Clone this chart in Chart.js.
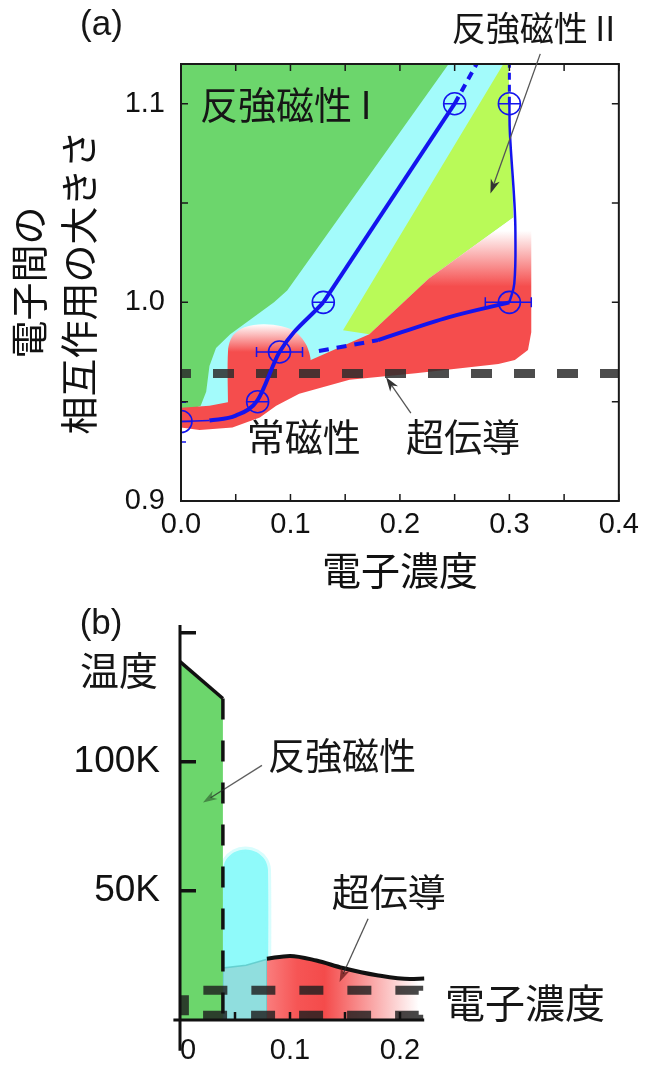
<!DOCTYPE html>
<html>
<head>
<meta charset="utf-8">
<script src="https://cdn.jsdelivr.net/npm/chart.js"></script>
<style>
  html, body { margin: 0; padding: 0; background: #fff; }
  #wrap { position: relative; width: 646px; height: 1075px; overflow: hidden; }
  .box { position: absolute; left: 0; width: 646px; }
</style>
</head>
<body>
<div id="wrap">
  <div class="box" style="top:0;height:600px"><canvas id="chartA"></canvas></div>
  <div class="box" style="top:575px;height:500px"><canvas id="chartB"></canvas></div>
</div>
<script>
// ---------- (a) 電子濃度 vs 電子間の相互作用 ----------
var xTickValsA = [0, 0.05, 0.1, 0.15, 0.2, 0.25, 0.3, 0.35, 0.4];
var xTickLabelsA = ['0.0', '', '0.1', '', '0.2', '', '0.3', '', '0.4'];
var yTickValsA = [0.9, 0.95, 1.0, 1.05, 1.1];
var yTickLabelsA = ['0.9', '', '1.0', '', '1.1'];

// measured points (circles)
var afDoping = [0.0, 0.07, 0.09, 0.13, 0.25];
var afU = [0.94, 0.95, 0.975, 1.0, 1.1];
var af2Doping = [0.3, 0.3];
var af2U = [1.1, 1.0];

// boundary lines
var lineA0x = [0.0, 0.026];
var lineA0y = [0.94, 0.9405];
var lineAx = [0.026, 0.05, 0.07, 0.09, 0.13];
var lineAy = [0.9405, 0.943, 0.9508, 0.975, 1.0];
var lineAstraightX = [0.13, 0.25];
var lineAstraightY = [1.0, 1.1];
var lineAdashX = [0.25, 0.27];
var lineAdashY = [1.1, 1.12];
var lineBx = [0.3, 0.3005, 0.3045, 0.3055, 0.3045, 0.3];
var lineBy = [1.1, 1.085, 1.051, 1.035, 1.0095, 1.0];
var lineBdashX = [0.3, 0.3];
var lineBdashY = [1.1, 1.12];
var lineCx = [0.18, 0.245, 0.3];
var lineCy = [0.981, 0.9926, 1.0];
var lineCdashX = [0.126, 0.18];
var lineCdashY = [0.9755, 0.981];
var scLevelX = [0, 0.4];
var scLevelY = [0.9642, 0.9642];

// error bars
var errHx = [[0.069, 0.111], [0.278, 0.32]];
var errHy = [0.975, 1.0];
var errVx = [0, 0];
var errVy = [0.9297, 0.9497];
var stemX = [0, 0];
var stemY = [0.9, 0.94];

// phase regions
var cyanX = [0, 0.299, 0.3036, 0.2264, 0.172, 0.1, 0.05, 0];
var cyanY = [1.12, 1.12, 1.0427, 1.012, 0.984, 0.958, 0.944, 0.944];
var greenX = [0, 0.2445, 0.097, 0.085, 0.065, 0.045, 0.032, 0.026, 0.023, 0.018, 0.008, 0];
var greenY = [1.12, 1.12, 1.006, 1.0, 0.992, 0.984, 0.977, 0.968, 0.955, 0.948, 0.946, 0.946];
var ygX = [0.2945, 0.299, 0.3036, 0.2264, 0.172, 0.148];
var ygY = [1.12, 1.12, 1.0427, 1.012, 0.984, 0.986];
var redX = [0, 0.017, 0.047, 0.072, 0.087, 0.108, 0.154, 0.2145, 0.29, 0.305, 0.317, 0.32, 0.32, 0.3036, 0.2264, 0.172, 0.09, 0.045, 0.026, 0];
var redY = [0.937, 0.9357, 0.937, 0.942, 0.948, 0.954, 0.961, 0.9643, 0.969, 0.971, 0.976, 0.985, 1.04, 1.0427, 1.012, 0.984, 0.964, 0.95, 0.948, 0.947];
var lobeX = [0.043, 0.043, 0.047, 0.058, 0.075, 0.092, 0.105, 0.115, 0.118, 0.1];
var lobeY = [0.946, 0.976, 0.983, 0.9875, 0.989, 0.988, 0.985, 0.978, 0.968, 0.955];

// ---------- (b) 電子濃度 vs 温度 ----------
var xTickValsB = [0, 0.1, 0.2, 0.3, 0.4];
var xTickLabelsB = ['0', '0.1', '0.2', '', ''];
var xMarksB = [0.05, 0.1, 0.15, 0.2];
var yTickValsB = [50, 100];
var yTickLabelsB = ['50K', '100K'];
var yMarksB = [50, 100, 150];

var bGreenX = [0, 0, 0.039, 0.039];
var bGreenT = [0, 138.8, 124.5, 0];
var bNeelX = [0, 0.039];
var bNeelT = [138.8, 124.5];
var bNeelDropX = [0.039, 0.039];
var bNeelDropT = [124.5, 0];
var bBarX = [0.039, 0.039, 0.0417, 0.0492, 0.0595, 0.0698, 0.0773, 0.08, 0.08];
var bBarT = [0, 57.9, 61.9, 64.9, 66, 64.9, 61.9, 57.9, 0];
var bTealX = [0.039, 0.039, 0.06, 0.079, 0.079];
var bTealT = [0, 20.1, 21.2, 23.5, 0];
var bRedX = [0.079, 0.1, 0.124, 0.148, 0.179, 0.209, 0.217, 0.217, 0.079];
var bRedT = [23.7, 24.8, 23.0, 20.1, 17.3, 15.8, 15.9, 0, 0];
var bScX = [0.079, 0.1, 0.124, 0.148, 0.179, 0.209, 0.222];
var bScT = [23.7, 24.8, 23.0, 20.1, 17.3, 15.8, 16.0];
var bBoxX = [0.004, 0.004, 0.217, 0.217, 0.004];
var bBoxT = [1.8, 11.5, 11.5, 1.8, 1.8];
var bAxisVX = [0, 0];
var bAxisVT = [-12, 153];
var bAxisHX = [-0.006, 0.222];
var bAxisHT = [0, 0];

var BLUE = '#1414ee';
var RED = '#f54d4d';
var GREEN = '#6cd66c';
var CJK = '"Noto Sans CJK JP", "Noto Sans CJK SC", sans-serif';
var LATIN = '"Liberation Sans", Arial, sans-serif';

function pts(xs, ys) {
  return xs.map(function (x, i) { return { x: x, y: ys[i] }; });
}

function region(xs, ys, color, order, tension) {
  return {
    data: pts(xs, ys), showLine: true, fill: 'shape',
    backgroundColor: color, borderColor: 'rgba(0,0,0,0)', borderWidth: 0,
    pointRadius: 0, tension: tension || 0, order: order
  };
}

function curve(xs, ys, color, width, order, extra) {
  var ds = {
    data: pts(xs, ys), showLine: true, fill: false,
    borderColor: color, borderWidth: width, pointRadius: 0,
    tension: 0, order: order
  };
  for (var k in extra) ds[k] = extra[k];
  return ds;
}

function vGrad(chart, vRed, vWhite, red) {
  if (!chart.chartArea) return red;
  var sy = chart.scales.y;
  var g = chart.ctx.createLinearGradient(0, sy.getPixelForValue(vRed), 0, sy.getPixelForValue(vWhite));
  g.addColorStop(0, red);
  g.addColorStop(1, '#ffffff');
  return g;
}

function drawArrow(ctx, chart, ar) {
  var sx = chart.scales.x, sy = chart.scales.y;
  var x0 = sx.getPixelForValue(ar.from[0]), y0 = sy.getPixelForValue(ar.from[1]);
  var x1 = sx.getPixelForValue(ar.to[0]), y1 = sy.getPixelForValue(ar.to[1]);
  var a = Math.atan2(y1 - y0, x1 - x0);
  ctx.strokeStyle = ar.line;
  ctx.lineWidth = 1.3;
  ctx.setLineDash([]);
  ctx.beginPath();
  ctx.moveTo(x0, y0);
  ctx.lineTo(x1 - 9 * Math.cos(a), y1 - 9 * Math.sin(a));
  ctx.stroke();
  ctx.fillStyle = ar.head;
  ctx.beginPath();
  ctx.moveTo(x1, y1);
  ctx.lineTo(x1 - 15 * Math.cos(a - 0.32), y1 - 15 * Math.sin(a - 0.32));
  ctx.lineTo(x1 - 10 * Math.cos(a), y1 - 10 * Math.sin(a));
  ctx.lineTo(x1 - 15 * Math.cos(a + 0.32), y1 - 15 * Math.sin(a + 0.32));
  ctx.closePath();
  ctx.fill();
}

function drawLabel(ctx, chart, lb) {
  ctx.font = lb.font;
  ctx.fillStyle = '#161616';
  ctx.textAlign = lb.align;
  ctx.textBaseline = 'middle';
  ctx.fillText(lb.text, chart.scales.x.getPixelForValue(lb.x), chart.scales.y.getPixelForValue(lb.y));
}

var labelsA = [
  { text: '(a)', x: -0.0727, y: 1.1397, align: 'center', font: '35px ' + LATIN },
  { text: '反強磁性 II', x: 0.2473, y: 1.1382, align: 'left', font: '34px ' + CJK },
  { text: '反強磁性 I', x: 0.0173, y: 1.0995, align: 'left', font: '38px ' + CJK },
  { text: '常磁性', x: 0.06, y: 0.9322, align: 'left', font: '38px ' + CJK },
  { text: '超伝導', x: 0.2055, y: 0.9322, align: 'left', font: '38px ' + CJK }
];
var arrowsA = [
  { from: [0.3282, 1.1251], to: [0.2827, 1.0548], line: '#555', head: '#333' },
  { from: [0.21, 0.9442], to: [0.1873, 0.9623], line: '#555', head: '#333' }
];
var labelsB = [
  { text: '(b)', x: -0.0718, y: 153.2, align: 'center', font: '35px ' + LATIN },
  { text: '温度', x: -0.0555, y: 135.6, align: 'center', font: '39px ' + CJK },
  { text: '反強磁性', x: 0.08, y: 102.2, align: 'left', font: '37px ' + CJK },
  { text: '超伝導', x: 0.138, y: 49.6, align: 'left', font: '38px ' + CJK },
  { text: '電子濃度', x: 0.241, y: 6.5, align: 'left', font: '40px ' + CJK }
];
var arrowsB = [
  { from: [0.0745, 98.6], to: [0.0209, 84.2], line: 'rgba(40,40,40,0.75)', head: 'rgba(30,60,30,0.5)' },
  { from: [0.171, 39.2], to: [0.145, 14.7], line: 'rgba(40,40,40,0.8)', head: 'rgba(90,20,20,0.7)' }
];

var decorA = {
  id: 'decorA',
  afterDatasetsDraw: function (chart) {
    var ctx = chart.ctx, a = chart.chartArea, sx = chart.scales.x, sy = chart.scales.y;
    ctx.save();
    ctx.strokeStyle = '#1a1a1a';
    ctx.lineWidth = 2;
    ctx.strokeRect(a.left, a.top, a.right - a.left, a.bottom - a.top);
    ctx.lineWidth = 1.5;
    ctx.beginPath();
    xTickValsA.forEach(function (v) {
      var p = sx.getPixelForValue(v);
      ctx.moveTo(p, a.bottom); ctx.lineTo(p, a.bottom - 7);
      ctx.moveTo(p, a.top); ctx.lineTo(p, a.top + 7);
    });
    yTickValsA.forEach(function (v) {
      var p = sy.getPixelForValue(v);
      ctx.moveTo(a.left, p); ctx.lineTo(a.left + 7, p);
      ctx.moveTo(a.right, p); ctx.lineTo(a.right - 7, p);
    });
    ctx.stroke();
    arrowsA.forEach(function (ar) { drawArrow(ctx, chart, ar); });
    labelsA.forEach(function (lb) { drawLabel(ctx, chart, lb); });
    ctx.restore();
  }
};

var decorB = {
  id: 'decorB',
  afterDatasetsDraw: function (chart) {
    var ctx = chart.ctx, sx = chart.scales.x, sy = chart.scales.y;
    var x0 = sx.getPixelForValue(0), y0 = sy.getPixelForValue(0);
    ctx.save();
    ctx.strokeStyle = '#111';
    ctx.lineWidth = 3.5;
    ctx.beginPath();
    yMarksB.forEach(function (v) {
      var p = sy.getPixelForValue(v);
      ctx.moveTo(x0, p); ctx.lineTo(x0 + 16, p);
    });
    ctx.stroke();
    ctx.lineWidth = 2.5;
    ctx.beginPath();
    xMarksB.forEach(function (v) {
      var p = sx.getPixelForValue(v);
      ctx.moveTo(p, y0); ctx.lineTo(p, y0 - 8);
    });
    ctx.stroke();
    arrowsB.forEach(function (ar) { drawArrow(ctx, chart, ar); });
    labelsB.forEach(function (lb) { drawLabel(ctx, chart, lb); });
    ctx.restore();
  }
};

var tickFontA = { family: LATIN, size: 29 };

// ---------- chart (a) ----------
new Chart(document.getElementById('chartA'), {
  type: 'scatter',
  data: {
    datasets: [
      region(cyanX, cyanY, '#a3fbfb', 100),
      region(greenX, greenY, GREEN, 99),
      region(ygX, ygY, '#b9fa58', 98),
      Object.assign(region(redX, redY, RED, 97), {
        backgroundColor: function (c) { return vGrad(c.chart, 1.008, 1.036, RED); }
      }),
      Object.assign(region(lobeX, lobeY, RED, 96, 0.3), {
        backgroundColor: function (c) { return vGrad(c.chart, 0.975, 0.989, RED); }
      }),
      curve(scLevelX, scLevelY, 'rgba(45,45,45,0.85)', 9, 50, { borderDash: [21, 22], borderDashOffset: 11 }),
      curve(lineA0x, lineA0y, BLUE, 1.5, 20),
      curve(lineAx, lineAy, BLUE, 4, 20, { cubicInterpolationMode: 'monotone' }),
      curve(lineAstraightX, lineAstraightY, BLUE, 4, 20),
      curve(lineAdashX, lineAdashY, BLUE, 4, 20, { borderDash: [8, 6] }),
      curve(lineBx, lineBy, BLUE, 2.5, 20, { tension: 0.4 }),
      curve(lineBdashX, lineBdashY, BLUE, 3, 20, { borderDash: [7, 5] }),
      curve(lineCx, lineCy, BLUE, 4, 20, { cubicInterpolationMode: 'monotone' }),
      curve(lineCdashX, lineCdashY, BLUE, 4, 20, { borderDash: [10, 8] }),
      curve(stemX, stemY, BLUE, 1.5, 15),
      curve(errVx, errVy, BLUE, 1.5, 15, { pointStyle: 'line', pointRadius: 5, pointBorderColor: BLUE, pointBorderWidth: 1.5 }),
      curve(errHx[0], [errHy[0], errHy[0]], BLUE, 1.5, 15, { pointStyle: 'line', pointRadius: 5, pointRotation: 90, pointBorderColor: BLUE, pointBorderWidth: 1.5 }),
      curve(errHx[1], [errHy[1], errHy[1]], BLUE, 1.5, 15, { pointStyle: 'line', pointRadius: 5, pointRotation: 90, pointBorderColor: BLUE, pointBorderWidth: 1.5 }),
      {
        data: pts(afDoping.concat(af2Doping), afU.concat(af2U)), showLine: false, order: 10,
        pointStyle: 'circle', pointRadius: 11, pointBorderWidth: 1.6,
        pointBorderColor: BLUE, pointBackgroundColor: 'rgba(0,0,0,0)'
      },
      {
        data: pts(afDoping.concat(af2Doping), afU.concat(af2U)), showLine: false, order: 10,
        pointStyle: 'line', pointRadius: 11, pointBorderWidth: 1.5, pointBorderColor: BLUE
      }
    ]
  },
  options: {
    responsive: true, maintainAspectRatio: false, animation: false,
    layout: { padding: { top: 64, right: 25, left: 0, bottom: 0 } },
    plugins: { legend: { display: false }, tooltip: { enabled: false } },
    scales: {
      x: {
        type: 'linear', min: 0, max: 0.4,
        grid: { display: false, drawTicks: false }, border: { display: false },
        afterBuildTicks: function (s) { s.ticks = xTickValsA.map(function (v) { return { value: v }; }); },
        afterFit: function (s) { s.height = 99; },
        ticks: { padding: 7, autoSkip: false, maxRotation: 0, color: '#111', font: tickFontA,
          callback: function (v, i) { return xTickLabelsA[i]; } },
        title: { display: true, text: '電子濃度', color: '#111',
          font: { family: CJK, size: 39, lineHeight: 1.2 }, padding: { top: 0, bottom: 6 } }
      },
      y: {
        type: 'linear', min: 0.9, max: 1.12,
        grid: { display: false, drawTicks: false }, border: { display: false },
        afterBuildTicks: function (s) { s.ticks = yTickValsA.map(function (v) { return { value: v }; }); },
        afterFit: function (s) { s.width = 181; },
        ticks: { padding: 16, autoSkip: false, color: '#111', font: tickFontA,
          callback: function (v, i) { return yTickLabelsA[i]; } },
        title: { display: true, text: ['電子間の', '相互作用の大きさ'], color: '#111',
          font: { family: CJK, size: 38, lineHeight: 1.32 }, padding: { top: 3, bottom: 0 } }
      }
    }
  },
  plugins: [decorA]
});

// ---------- chart (b) ----------
new Chart(document.getElementById('chartB'), {
  type: 'scatter',
  data: {
    datasets: [
      Object.assign(region(bBarX, bBarT, '#8ffafa', 100, 0.3), { borderColor: 'rgba(143,250,250,0.35)', borderWidth: 6 }),
      Object.assign(region(bTealX, bTealT, '#90dede', 99), { borderColor: 'rgba(90,200,200,0.8)', borderWidth: 1.5 }),
      Object.assign(region(bRedX, bRedT, RED, 98), {
        backgroundColor: function (c) {
          var ch = c.chart;
          if (!ch.chartArea) return RED;
          var sx = ch.scales.x;
          var g = ch.ctx.createLinearGradient(sx.getPixelForValue(0.079), 0, sx.getPixelForValue(0.217), 0);
          g.addColorStop(0, 'rgb(250,125,125)');
          g.addColorStop(0.2, 'rgb(246,85,85)');
          g.addColorStop(0.38, 'rgb(244,75,75)');
          g.addColorStop(1, '#ffffff');
          return g;
        }
      }),
      region(bGreenX, bGreenT, GREEN, 97),
      curve(bBoxX, bBoxT, 'rgba(30,30,30,0.82)', 9, 60, { borderDash: [24, 24], borderDashOffset: 4 }),
      curve(bScX, bScT, '#111', 4, 30, { cubicInterpolationMode: 'monotone' }),
      curve(bNeelX, bNeelT, '#111', 3.5, 30),
      curve(bNeelDropX, bNeelDropT, '#111', 3.5, 30, { borderDash: [21, 21] }),
      curve(bAxisVX, bAxisVT, '#111', 3, 20, { clip: false }),
      curve(bAxisHX, bAxisHT, '#111', 3, 20, { clip: false })
    ]
  },
  options: {
    responsive: true, maintainAspectRatio: false, animation: false,
    layout: { padding: { top: 17, right: 26, left: 0, bottom: 0 } },
    plugins: { legend: { display: false }, tooltip: { enabled: false } },
    scales: {
      x: {
        type: 'linear', min: 0, max: 0.4,
        grid: { display: false, drawTicks: false }, border: { display: false },
        afterBuildTicks: function (s) { s.ticks = xTickValsB.map(function (v) { return { value: v }; }); },
        afterFit: function (s) { s.height = 35; },
        ticks: { padding: 1, align: 'inner', autoSkip: false, maxRotation: 0, color: '#111',
          font: { family: LATIN, size: 29 },
          callback: function (v, i) { return xTickLabelsB[i]; } }
      },
      y: {
        type: 'linear', min: -5, max: 156,
        grid: { display: false, drawTicks: false }, border: { display: false },
        afterBuildTicks: function (s) { s.ticks = yTickValsB.map(function (v) { return { value: v }; }); },
        afterFit: function (s) { s.width = 180; },
        ticks: { padding: 20, autoSkip: false, color: '#111', font: { family: LATIN, size: 37 },
          callback: function (v, i) { return yTickLabelsB[i]; } }
      }
    }
  },
  plugins: [decorB]
});
</script>
</body>
</html>
